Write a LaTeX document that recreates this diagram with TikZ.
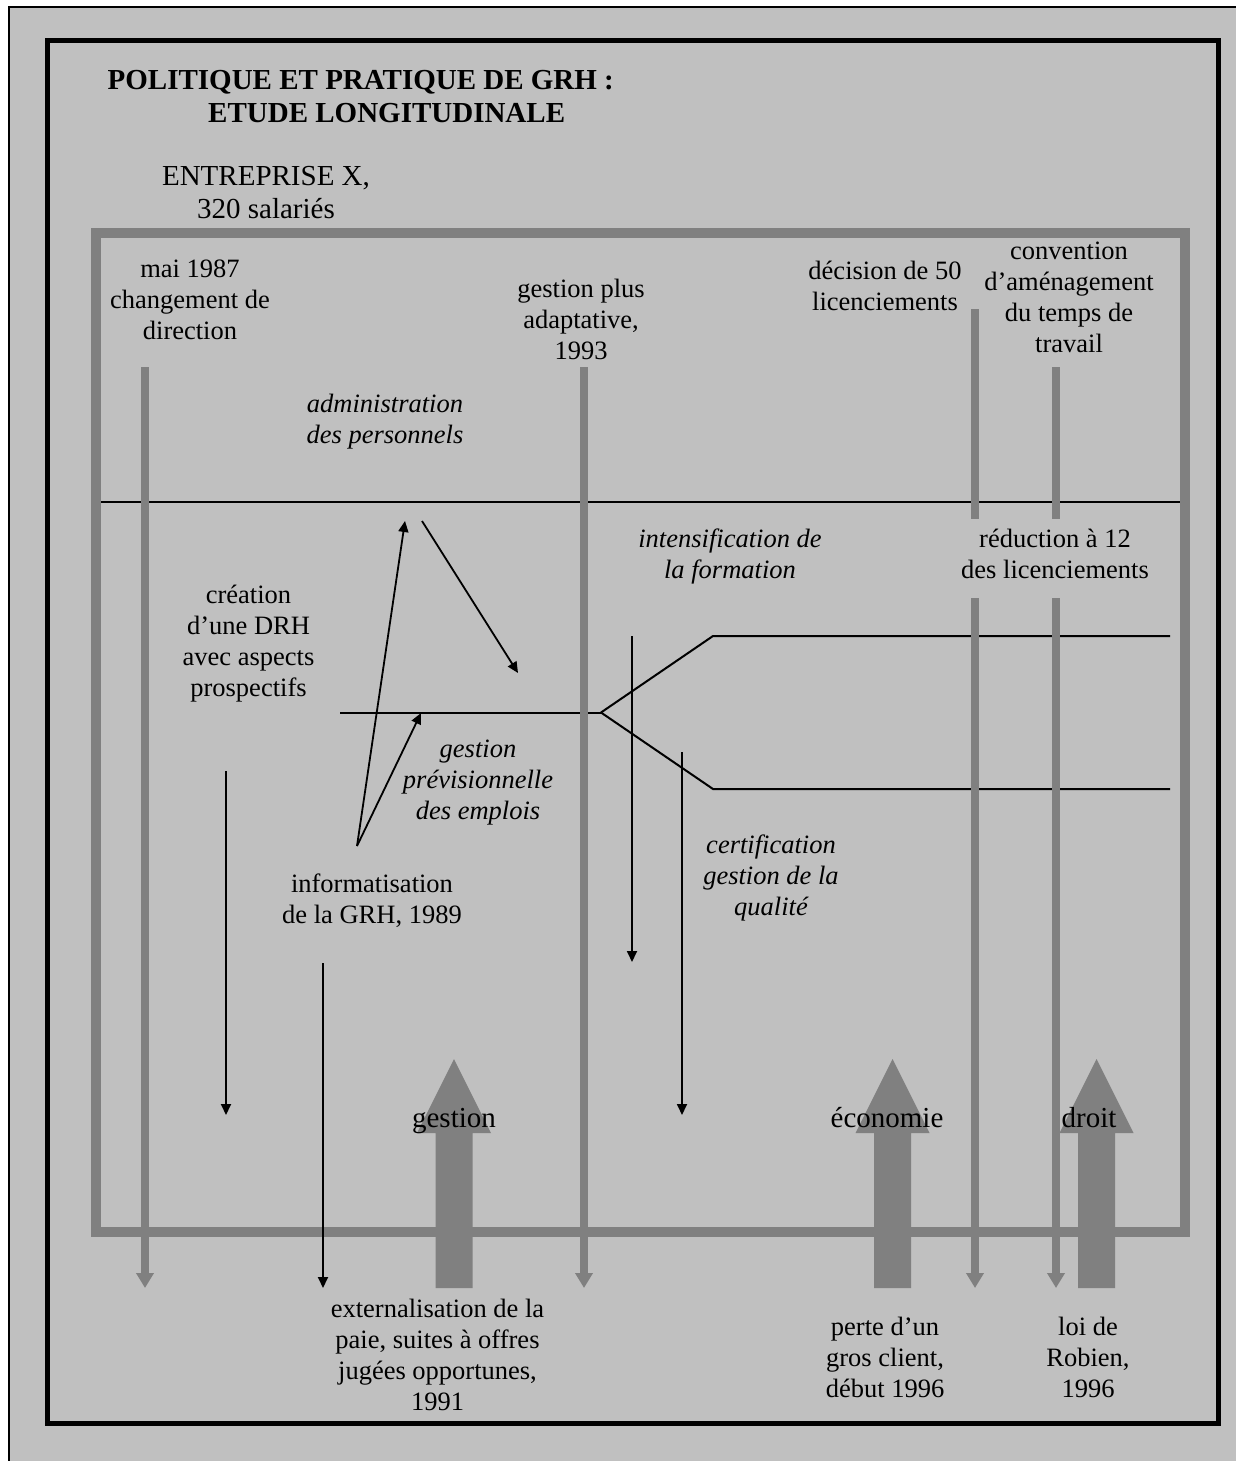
\documentclass[tikz,border=0pt]{standalone}
\usepackage{fontspec}
\setmainfont{Liberation Serif}
\usetikzlibrary{arrows.meta}
\definecolor{bggray}{HTML}{C0C0C0}
\definecolor{midgray}{HTML}{808080}
\tikzset{
  body/.style={font=\fontsize{26.5}{30.8}\selectfont, align=center, anchor=base, inner sep=0pt},
  bodyit/.style={body, font=\fontsize{26.5}{30.8}\selectfont\itshape},
  head/.style={font=\fontsize{29}{33}\selectfont, align=center, anchor=base, inner sep=0pt},
  ttl/.style={font=\fontsize{29}{33}\selectfont\bfseries, anchor=base west, inner sep=0pt},
  timeline/.style={draw=midgray, line width=8pt, -{Triangle[width=17pt,length=15pt]}},
  timeseg/.style={draw=midgray, line width=8pt},
  blk/.style={draw=black, line width=2pt},
  blkarrow/.style={draw=black, line width=1.8pt, -{Triangle[width=10pt,length=11pt]}},
  bigup/.pic={\fill[midgray] (-18.5,229) -- (-18.5,74) -- (-37,74) -- (0,0) -- (37,74) -- (18.5,74) -- (18.5,229) -- cycle;},
}
\begin{document}
\begin{tikzpicture}[x=1pt,y=-1pt]
\useasboundingbox (0,0) rectangle (1236,1461);
\fill[white] (0,0) rectangle (1236,1461);
\fill[bggray] (8,7) rectangle (1236,1461);
\draw[line width=2pt] (8.5,1461) -- (8.5,7) -- (1236,7);
% frames
\draw[line width=5pt] (47.5,40.5) rectangle (1218.5,1423.5);
\draw[midgray, line width=10pt] (96,233) rectangle (1185,1232);

% coordinates
\coordinate (sepL) at (101,502);
\coordinate (sepR) at (1180,502);
\coordinate (hL) at (340,712.5);
\coordinate (br) at (601,712.5);
\coordinate (upK) at (713,636);
\coordinate (upE) at (1170,636);
\coordinate (loK) at (713,789);
\coordinate (loE) at (1170,789);
\coordinate (inf) at (357,846);
\coordinate (admTip) at (405,521);
\coordinate (gpeTip) at (421,713);
\coordinate (admOut) at (422,521);
\coordinate (admTo) at (518,673);

% black lines
\draw[blk] (sepL) -- (sepR);
\draw[blk] (hL) -- (br);
\draw[blk] (br) -- (upK) -- (upE);
\draw[blk] (br) -- (loK) -- (loE);
\draw[blkarrow] (inf) -- (admTip);
\draw[blkarrow] (inf) -- (gpeTip);
\draw[blkarrow] (admOut) -- (admTo);

% black vertical arrows
\coordinate (a1s) at (226,771);   \coordinate (a1e) at (226,1115);
\coordinate (a2s) at (323,963);   \coordinate (a2e) at (323,1288);
\coordinate (a3s) at (632,636);   \coordinate (a3e) at (632,962);
\coordinate (a4s) at (682,752);   \coordinate (a4e) at (682,1115);
\draw[blkarrow] (a1s) -- (a1e);
\draw[blkarrow] (a2s) -- (a2e);
\draw[blkarrow] (a3s) -- (a3e);
\draw[blkarrow] (a4s) -- (a4e);

% big gray arrows
\pic at (454,1059) {bigup};
\pic at (892.5,1059) {bigup};
\pic at (1096.5,1059) {bigup};

% gray timelines
\coordinate (g1s) at (145,367);  \coordinate (g1e) at (145,1288);
\coordinate (g2s) at (584,367);  \coordinate (g2e) at (584,1288);
\coordinate (g3s) at (975,309);  \coordinate (g3m) at (975,519);
\coordinate (g3r) at (975,598);  \coordinate (g3e) at (975,1288);
\coordinate (g4s) at (1056,367); \coordinate (g4m) at (1056,519);
\coordinate (g4r) at (1056,598); \coordinate (g4e) at (1056,1288);
\draw[timeline] (g1s) -- (g1e);
\draw[timeline] (g2s) -- (g2e);
\draw[timeseg] (g3s) -- (g3m);
\draw[timeline] (g3r) -- (g3e);
\draw[timeseg] (g4s) -- (g4m);
\draw[timeline] (g4r) -- (g4e);

% texts (anchor = baseline of the last line)
\node[ttl] (t1) at (107.5,90) {POLITIQUE ET PRATIQUE DE GRH :};
\node[ttl] (t2) at (208,123) {ETUDE LONGITUDINALE};
\node[head] (ent) at (266,218) {ENTREPRISE X,\\320 salariés};
\node[body] (mai) at (190,339) {mai 1987\\changement de\\direction};
\node[body] (gpa) at (581,359) {gestion plus\\adaptative,\\1993};
\node[body] (dec) at (885,310) {décision de 50\\licenciements};
\node[body] (conv) at (1069,352) {convention\\d’aménagement\\du temps de\\travail};
\node[bodyit] (adm) at (385,443) {administration\\des personnels};
\node[body] (drh) at (248.5,696) {création\\d’une DRH\\avec aspects\\prospectifs};
\node[bodyit] (form) at (730,578) {intensification de\\la formation};
\node[body] (red) at (1055,578) {réduction à 12\\des licenciements};
\node[bodyit] (gpe) at (478,819) {gestion\\prévisionnelle\\des emplois};
\node[bodyit] (cert) at (771,915) {certification\\gestion de la\\qualité};
\node[body] (info) at (372,923) {informatisation\\de la GRH, 1989};
\node[head] (lgest) at (454,1127) {gestion};
\node[head] (leco) at (887,1127) {économie};
\node[head] (ldroit) at (1089,1127) {droit};
\node[body] (ext) at (437.5,1410) {externalisation de la\\paie, suites à offres\\jugées opportunes,\\1991};
\node[body] (perte) at (885,1397) {perte d’un\\gros client,\\début 1996};
\node[body] (loi) at (1088,1397) {loi de\\Robien,\\1996};
\end{tikzpicture}
\end{document}
